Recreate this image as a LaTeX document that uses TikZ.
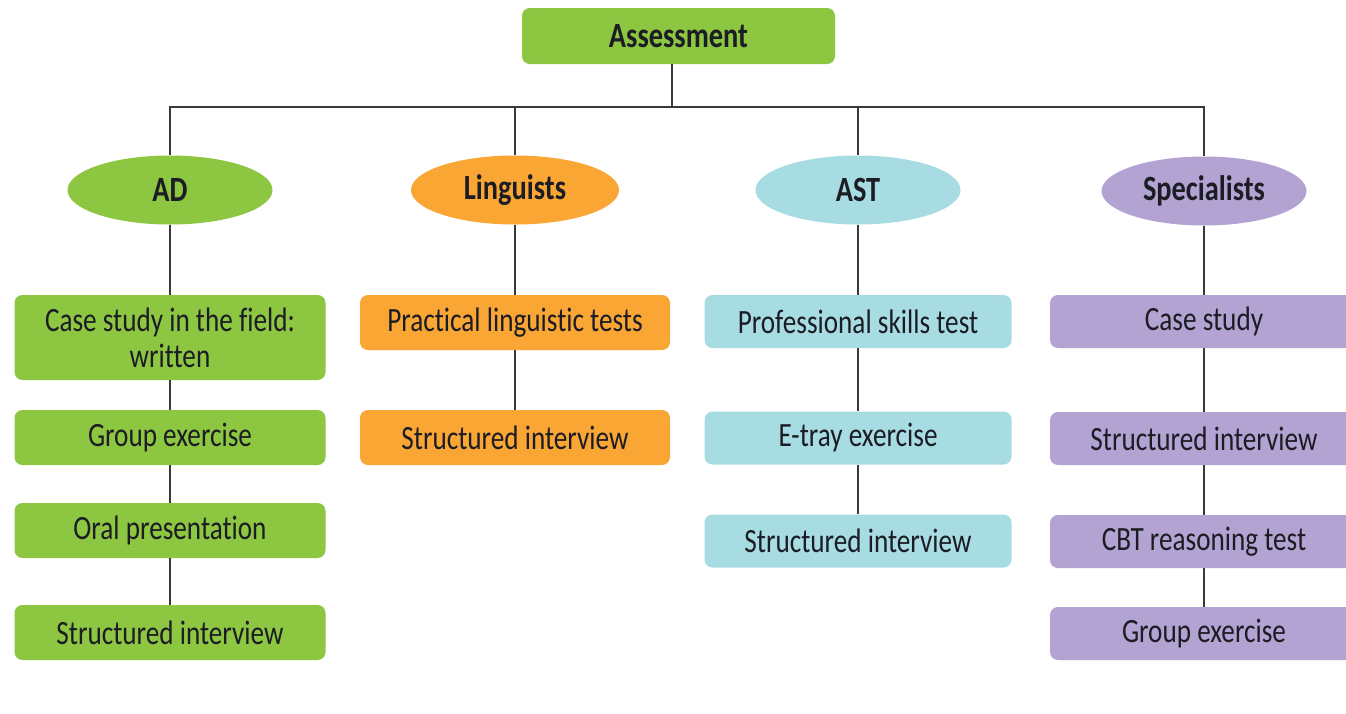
\documentclass[tikz,border=0pt]{standalone}
\usepackage{fontspec}
\setmainfont{Carlito}[FakeStretch=0.8, Ligatures=NoCommon]
\usetikzlibrary{shapes.geometric}
\definecolor{cgreen}{HTML}{8DC641}
\definecolor{corange}{HTML}{F9A634}
\definecolor{cblue}{HTML}{A7DCE3}
\definecolor{cpurple}{HTML}{B3A3D3}
\definecolor{ctext}{HTML}{1C1C24}
\definecolor{cline}{HTML}{3A3A3A}
\tikzset{
  box/.style={rectangle, rounded corners=8pt, minimum height=54pt, inner sep=0pt, align=center, text=ctext, font=\fontsize{34}{36}\selectfont},
  oval/.style={ellipse, minimum width=205pt, minimum height=69pt, inner sep=0pt, text=ctext, font=\fontsize{35.5}{38}\selectfont\bfseries},
  conn/.style={draw=cline, line width=2pt},
}
\begin{document}
\begin{tikzpicture}[x=1pt,y=-1pt]
\clip (0,0) rectangle (1346,713);
\fill[white] (0,0) rectangle (1346,713);
% top
\node[box, fill=cgreen, minimum width=313pt, minimum height=56pt, font=\fontsize{35.5}{38}\selectfont\bfseries] (assess) at (678.5,36) {Assessment};
\coordinate (bus) at (672,107);
% ellipses
\node[oval, fill=cgreen] (AD) at (170,190) {AD};
\node[oval, fill=corange, minimum width=208pt] (LI) at (515,190) {Linguists};
\node[oval, fill=cblue] (AST) at (858,190) {AST};
\node[oval, fill=cpurple] (SP) at (1204,191) {Specialists};
% column 1
\node[box, fill=cgreen, minimum width=311pt, minimum height=85pt] (a1) at (170,337.5) {Case study in the field:\\written};
\node[box, fill=cgreen, minimum width=311pt, minimum height=55pt] (a2) at (170,437.5) {Group exercise};
\node[box, fill=cgreen, minimum width=311pt, minimum height=55pt] (a3) at (170,530.5) {Oral presentation};
\node[box, fill=cgreen, minimum width=311pt, minimum height=55pt] (a4) at (170,632.5) {Structured interview};
% column 2
\node[box, fill=corange, minimum width=310pt, minimum height=55pt] (l1) at (515,322.5) {Practical linguistic tests};
\node[box, fill=corange, minimum width=310pt, minimum height=55pt] (l2) at (515,437.5) {Structured interview};
% column 3
\node[box, fill=cblue, minimum width=307pt, minimum height=53pt] (t1) at (858,321.5) {Professional skills test};
\node[box, fill=cblue, minimum width=307pt, minimum height=53pt] (t2) at (858,438) {E-tray exercise};
\node[box, fill=cblue, minimum width=307pt, minimum height=53pt] (t3) at (858,541) {Structured interview};
% column 4
\node[box, fill=cpurple, minimum width=308pt, minimum height=53pt] (s1) at (1204,321.5) {Case study};
\node[box, fill=cpurple, minimum width=308pt, minimum height=53pt] (s2) at (1204,438.5) {Structured interview};
\node[box, fill=cpurple, minimum width=308pt, minimum height=53pt] (s3) at (1204,541.5) {CBT reasoning test};
\node[box, fill=cpurple, minimum width=308pt, minimum height=53pt] (s4) at (1204,633.5) {Group exercise};
% connectors
\draw[conn] (assess.south -| bus) -- (bus);
\draw[conn] (AD.north) -- (AD.north |- bus) -- (SP.north |- bus) -- (SP.north);
\draw[conn] (LI.north) -- (LI.north |- bus);
\draw[conn] (AST.north) -- (AST.north |- bus);
\draw[conn] (AD) -- (a1);
\draw[conn] (a1) -- (a2);
\draw[conn] (a2) -- (a3);
\draw[conn] (a3) -- (a4);
\draw[conn] (LI) -- (l1);
\draw[conn] (l1) -- (l2);
\draw[conn] (AST) -- (t1);
\draw[conn] (t1) -- (t2);
\draw[conn] (t2) -- (t3);
\draw[conn] (SP) -- (s1);
\draw[conn] (s1) -- (s2);
\draw[conn] (s2) -- (s3);
\draw[conn] (s3) -- (s4);
\end{tikzpicture}
\end{document}
